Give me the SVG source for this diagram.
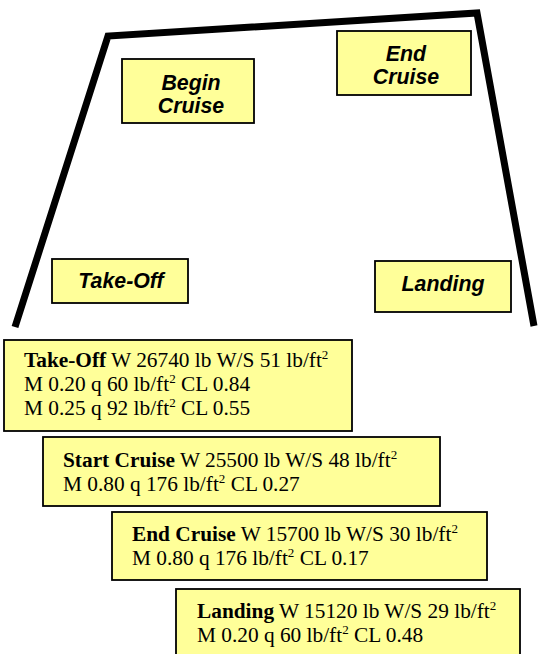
<svg xmlns="http://www.w3.org/2000/svg" width="538" height="654" viewBox="0 0 538 654">
<style>
.box{fill:#FFFF99;stroke:#000;stroke-width:1.8}
.lbl{font-family:"Liberation Sans",Arial,sans-serif;font-weight:bold;font-style:italic;font-size:21.33px;fill:#000;text-anchor:middle}
.info{font-family:"Liberation Serif","Times New Roman",serif;font-size:21.33px;fill:#000}
.b{font-weight:bold}
.path{fill:none;stroke:#000;stroke-width:7;stroke-linejoin:miter;stroke-linecap:butt}
</style>
<rect width="538" height="654" fill="#fff"/>
<g id="connectors">
<polyline class="path" points="15,327 108,36 477,13 534,326"/>
</g>
<g id="begin-cruise">
<rect class="box" x="122" y="59" width="132" height="64"/>
<text class="lbl" x="191" y="90">Begin</text>
<text class="lbl" x="191" y="113">Cruise</text>
</g>
<g id="end-cruise">
<rect class="box" x="337" y="31" width="134" height="64"/>
<text class="lbl" x="406" y="61">End</text>
<text class="lbl" x="406" y="84">Cruise</text>
</g>
<g id="take-off">
<rect class="box" x="52" y="259" width="136" height="44"/>
<text class="lbl" x="121" y="288">Take-Off</text>
</g>
<g id="landing">
<rect class="box" x="375" y="261" width="136" height="51"/>
<text class="lbl" x="443" y="291">Landing</text>
</g>
<g id="info-take-off">
<rect class="box" x="4" y="340" width="348" height="91"/>
<text class="info" x="24" y="367"><tspan class="b">Take-Off</tspan> W 26740 lb W/S 51 lb/ft<tspan dy="-8" font-size="13">2</tspan></text>
<text class="info" x="24" y="391">M 0.20 q 60 lb/ft<tspan dy="-8" font-size="13">2</tspan><tspan dy="8"> CL 0.84</tspan></text>
<text class="info" x="24" y="415">M 0.25 q 92 lb/ft<tspan dy="-8" font-size="13">2</tspan><tspan dy="8"> CL 0.55</tspan></text>
</g>
<g id="info-start-cruise">
<rect class="box" x="43" y="437" width="397" height="69"/>
<text class="info" x="63" y="467"><tspan class="b">Start Cruise</tspan> W 25500 lb W/S 48 lb/ft<tspan dy="-8" font-size="13">2</tspan></text>
<text class="info" x="63" y="491">M 0.80 q 176 lb/ft<tspan dy="-8" font-size="13">2</tspan><tspan dy="8"> CL 0.27</tspan></text>
</g>
<g id="info-end-cruise">
<rect class="box" x="112" y="512" width="375" height="68"/>
<text class="info" x="132" y="541"><tspan class="b">End Cruise</tspan> W 15700 lb W/S 30 lb/ft<tspan dy="-8" font-size="13">2</tspan></text>
<text class="info" x="132" y="565">M 0.80 q 176 lb/ft<tspan dy="-8" font-size="13">2</tspan><tspan dy="8"> CL 0.17</tspan></text>
</g>
<g id="info-landing">
<rect class="box" x="176" y="589" width="344" height="80"/>
<text class="info" x="197" y="618"><tspan class="b">Landing</tspan> W 15120 lb W/S 29 lb/ft<tspan dy="-8" font-size="13">2</tspan></text>
<text class="info" x="197" y="642">M 0.20 q 60 lb/ft<tspan dy="-8" font-size="13">2</tspan><tspan dy="8"> CL 0.48</tspan></text>
</g>
</svg>
